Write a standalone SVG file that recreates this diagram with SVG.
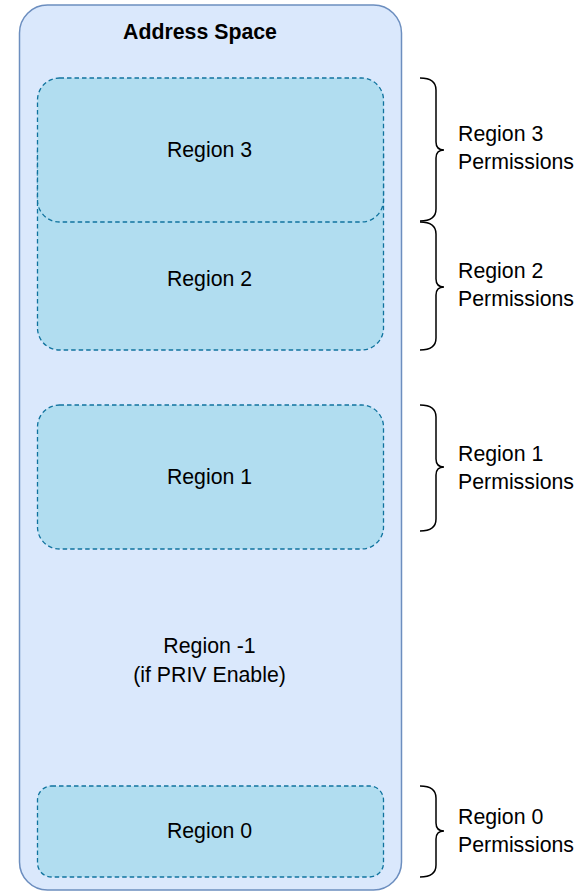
<svg xmlns="http://www.w3.org/2000/svg" width="583" height="893" viewBox="0 0 583 893">
<style>
.outer{fill:#dae8fc;stroke:#6c8ebf;stroke-width:1.5}
.reg{fill:#b1ddf0;stroke:#10739e;stroke-width:1.3;stroke-dasharray:4.5 3}
.t{font-family:"Liberation Sans",Arial,sans-serif;font-size:21.3px;fill:#000}
.c{text-anchor:middle}
.b{font-weight:bold}
.brace{fill:none;stroke:#000;stroke-width:1.5}
</style>
<g id="address-space">
<rect class="outer" x="19.5" y="5" width="382" height="885" rx="28" ry="28"/>
<text class="t c b" x="200" y="39">Address Space</text>
</g>
<g id="region2">
<rect class="reg" x="37.5" y="130" width="346" height="220" rx="22" ry="22"/>
<text class="t c" x="209.5" y="286">Region 2</text>
</g>
<g id="region3">
<rect class="reg" x="37.5" y="78" width="346" height="144" rx="22" ry="22"/>
<text class="t c" x="209.5" y="157">Region 3</text>
</g>
<g id="region1">
<rect class="reg" x="37.5" y="405" width="346" height="144" rx="22" ry="22"/>
<text class="t c" x="209.5" y="484">Region 1</text>
</g>
<g id="region-minus1">
<text class="t c" x="209.5" y="653">Region -1</text>
<text class="t c" x="209.5" y="682">(if PRIV Enable)</text>
</g>
<g id="region0">
<rect class="reg" x="37.5" y="786" width="346" height="91" rx="14" ry="14"/>
<text class="t c" x="209.5" y="838">Region 0</text>
</g>
<g id="connectors">
<path class="brace" d="M420,78 Q436,78 436,90 L436,142 Q436,150 444,150 Q436,150 436,158 L436,209 Q436,221 420,221"/>
<path class="brace" d="M420,222 Q436,222 436,234 L436,279 Q436,287 444,287 Q436,287 436,295 L436,338 Q436,350 420,350"/>
<path class="brace" d="M420,405 Q436,405 436,417 L436,459 Q436,467 444,467 Q436,467 436,475 L436,519 Q436,531 420,531"/>
<path class="brace" d="M420,786 Q436,786 436,798 L436,823 Q436,831 444,831 Q436,831 436,839 L436,865 Q436,877 420,877"/>
</g>
<g id="perm3"><text class="t" x="458" y="141">Region 3</text><text class="t" x="458" y="169">Permissions</text></g>
<g id="perm2"><text class="t" x="458" y="278">Region 2</text><text class="t" x="458" y="306">Permissions</text></g>
<g id="perm1"><text class="t" x="458" y="461">Region 1</text><text class="t" x="458" y="489">Permissions</text></g>
<g id="perm0"><text class="t" x="458" y="824">Region 0</text><text class="t" x="458" y="852">Permissions</text></g>
</svg>
